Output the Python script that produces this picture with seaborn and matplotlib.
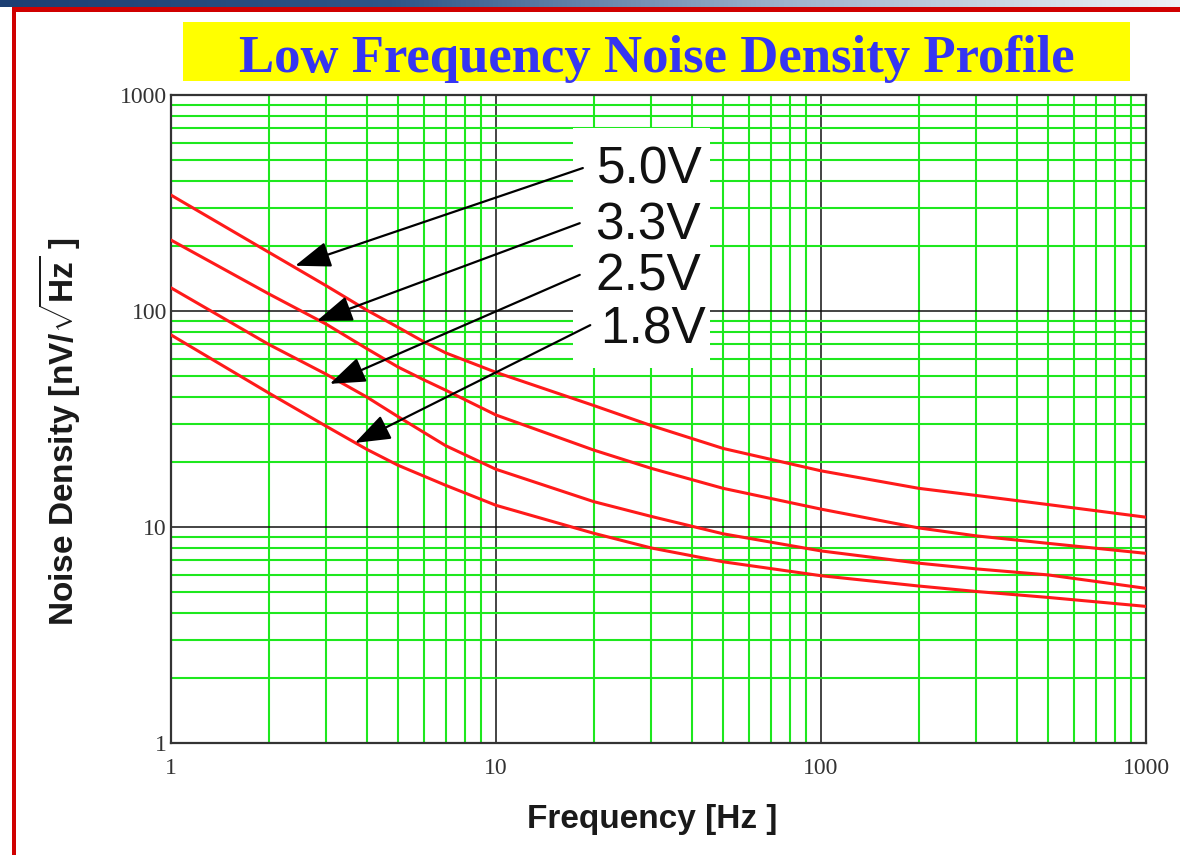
import numpy as np
import pandas as pd
import matplotlib
matplotlib.use("Agg")
import matplotlib.pyplot as plt
import seaborn as sns
from matplotlib.patches import Rectangle
from matplotlib.colors import LinearSegmentedColormap
from matplotlib.ticker import LogLocator, NullFormatter, FixedLocator, FixedFormatter

# ---------------- data ----------------
freq = [1, 2, 3, 4, 5, 6, 7, 10, 20, 30, 50, 100, 200, 300, 500, 1000]
noise_50 = [344, 187, 131, 101, 84, 72, 64, 52, 36.5, 29.5, 23.1, 18.2, 15.1, 14.0, 12.7, 11.1]
noise_33 = [213, 120, 87, 67, 55, 48, 43, 33, 22.7, 18.7, 15.1, 12.1, 9.9, 9.1, 8.4, 7.55]
noise_25 = [128, 70, 51, 40, 32.4, 27.4, 23.8, 18.5, 13.1, 11.2, 9.3, 7.75, 6.8, 6.4, 6.0, 5.2]
noise_18 = [77.5, 41.7, 29.3, 22.9, 19.3, 17.2, 15.6, 12.6, 9.35, 8.0, 6.9, 5.95, 5.33, 5.03, 4.72, 4.29]
supplies = ["5.0V", "3.3V", "2.5V", "1.8V"]
tick_values = [1, 10, 100, 1000]
tick_labels = ["1", "10", "100", "1000"]

title = "Low Frequency Noise Density Profile"
xlabel = "Frequency [Hz ]"
ylabel = r"Noise Density [nV/$\sqrt{\mathbf{Hz}}$ ]"

df = pd.DataFrame({
    "freq": freq * 4,
    "noise": noise_50 + noise_33 + noise_25 + noise_18,
    "supply": sum([[s] * len(freq) for s in supplies], []),
})

# ---------------- style ----------------
sns.set_style("white")
plt.rcParams["font.family"] = ["Liberation Sans", "DejaVu Sans"]
plt.rcParams["mathtext.fontset"] = "custom"
plt.rcParams["mathtext.rm"] = "Liberation Sans"
plt.rcParams["mathtext.bf"] = "Liberation Sans:bold"
plt.rcParams["mathtext.it"] = "Liberation Sans:italic"

fig = plt.figure(figsize=(11.8, 8.55), dpi=100)
fig.patch.set_facecolor("white")
ax = fig.add_axes([171 / 1180, 1 - 743 / 855, 975 / 1180, 648 / 855])

red = "#FF1A1A"
sns.lineplot(data=df, x="freq", y="noise", hue="supply", hue_order=supplies,
             palette={s: red for s in supplies}, legend=False, lw=2.2, ax=ax,
             zorder=3)

ax.set_xscale("log")
ax.set_yscale("log")
ax.set_xlim(1, 1000)
ax.set_ylim(1, 1000)

for axis in (ax.xaxis, ax.yaxis):
    axis.set_major_locator(FixedLocator(tick_values))
    axis.set_major_formatter(FixedFormatter(tick_labels))
    axis.set_minor_locator(LogLocator(base=10, subs=range(2, 10)))
    axis.set_minor_formatter(NullFormatter())

ax.set_axisbelow(True)
ax.grid(which="minor", color="#1EE81E", lw=1.5)
ax.grid(which="major", color="#111111", lw=1.1)
ax.tick_params(which="both", length=0)
ax.tick_params(axis="x", pad=11)
ax.tick_params(axis="y", pad=3)
for lab in ax.get_xticklabels() + ax.get_yticklabels():
    lab.set_fontfamily("Liberation Serif")
    lab.set_fontsize(17)
    lab.set_color("#333333")

for sp in ax.spines.values():
    sp.set_color("#333333")
    sp.set_linewidth(1.6)
    sp.set_visible(True)

ax.set_xlabel(xlabel, fontsize=24, fontweight="bold", color="#1a1a1a")
ax.set_ylabel(ylabel, fontsize=24, fontweight="bold", color="#1a1a1a")
ax.xaxis.set_label_coords(0.494, -0.094)
ax.yaxis.set_label_coords(-0.091, 0.48)

# white box behind the supply labels
ax.add_patch(Rectangle((17.3, 54.5), 45.5 - 17.3, 703 - 54.5, facecolor="white",
                       edgecolor="none", zorder=1.5))

# labels and arrows
text_pos = [(20.5, 391), (20.2, 215), (20.2, 124), (20.9, 71)]
tails = [(18.5, 459), (18.1, 255), (18.1, 147), (19.5, 86)]
heads = [(2.41, 162), (2.81, 90), (3.08, 46), (3.68, 24.5)]
for s, tp, tl, hd in zip(supplies, text_pos, tails, heads):
    ax.text(tp[0], tp[1], s, fontsize=37, color="#111111", ha="left",
            va="baseline", zorder=4)
    ax.annotate("", xy=hd, xytext=tl,
                arrowprops=dict(arrowstyle="-|>,head_length=1.1,head_width=0.4",
                                mutation_scale=20, color="black", lw=1.6,
                                shrinkA=0, shrinkB=0),
                zorder=5)

# title box
fig.add_artist(Rectangle((183 / 1180, 1 - 81 / 855), 947 / 1180, 59 / 855,
                         transform=fig.transFigure, facecolor="#FFFF00",
                         edgecolor="none"))
fig.text(657 / 1180, 1 - 72 / 855, title, ha="center", va="baseline",
         fontsize=38, fontweight="bold", color="#3535F2",
         family="Liberation Serif")

# frame decorations
grad_ax = fig.add_axes([0, 1 - 7 / 855, 1, 7 / 855])
grad = np.linspace(0, 1, 256)[None, :]
cmap = LinearSegmentedColormap.from_list("bar", ["#1d3f73", "#2f5688", "#9fb3cc", "#eef1f5"])
grad_ax.imshow(grad, aspect="auto", cmap=cmap)
grad_ax.set_axis_off()
fig.add_artist(Rectangle((12 / 1180, 1 - 12 / 855), 1, 4.6 / 855,
                         transform=fig.transFigure, facecolor="#D00000",
                         edgecolor="none"))
fig.add_artist(Rectangle((12 / 1180, 0), 4.3 / 1180, 1 - 7.5 / 855,
                         transform=fig.transFigure, facecolor="#D00000",
                         edgecolor="none"))

fig.savefig("out.png", dpi=100, facecolor="white")
